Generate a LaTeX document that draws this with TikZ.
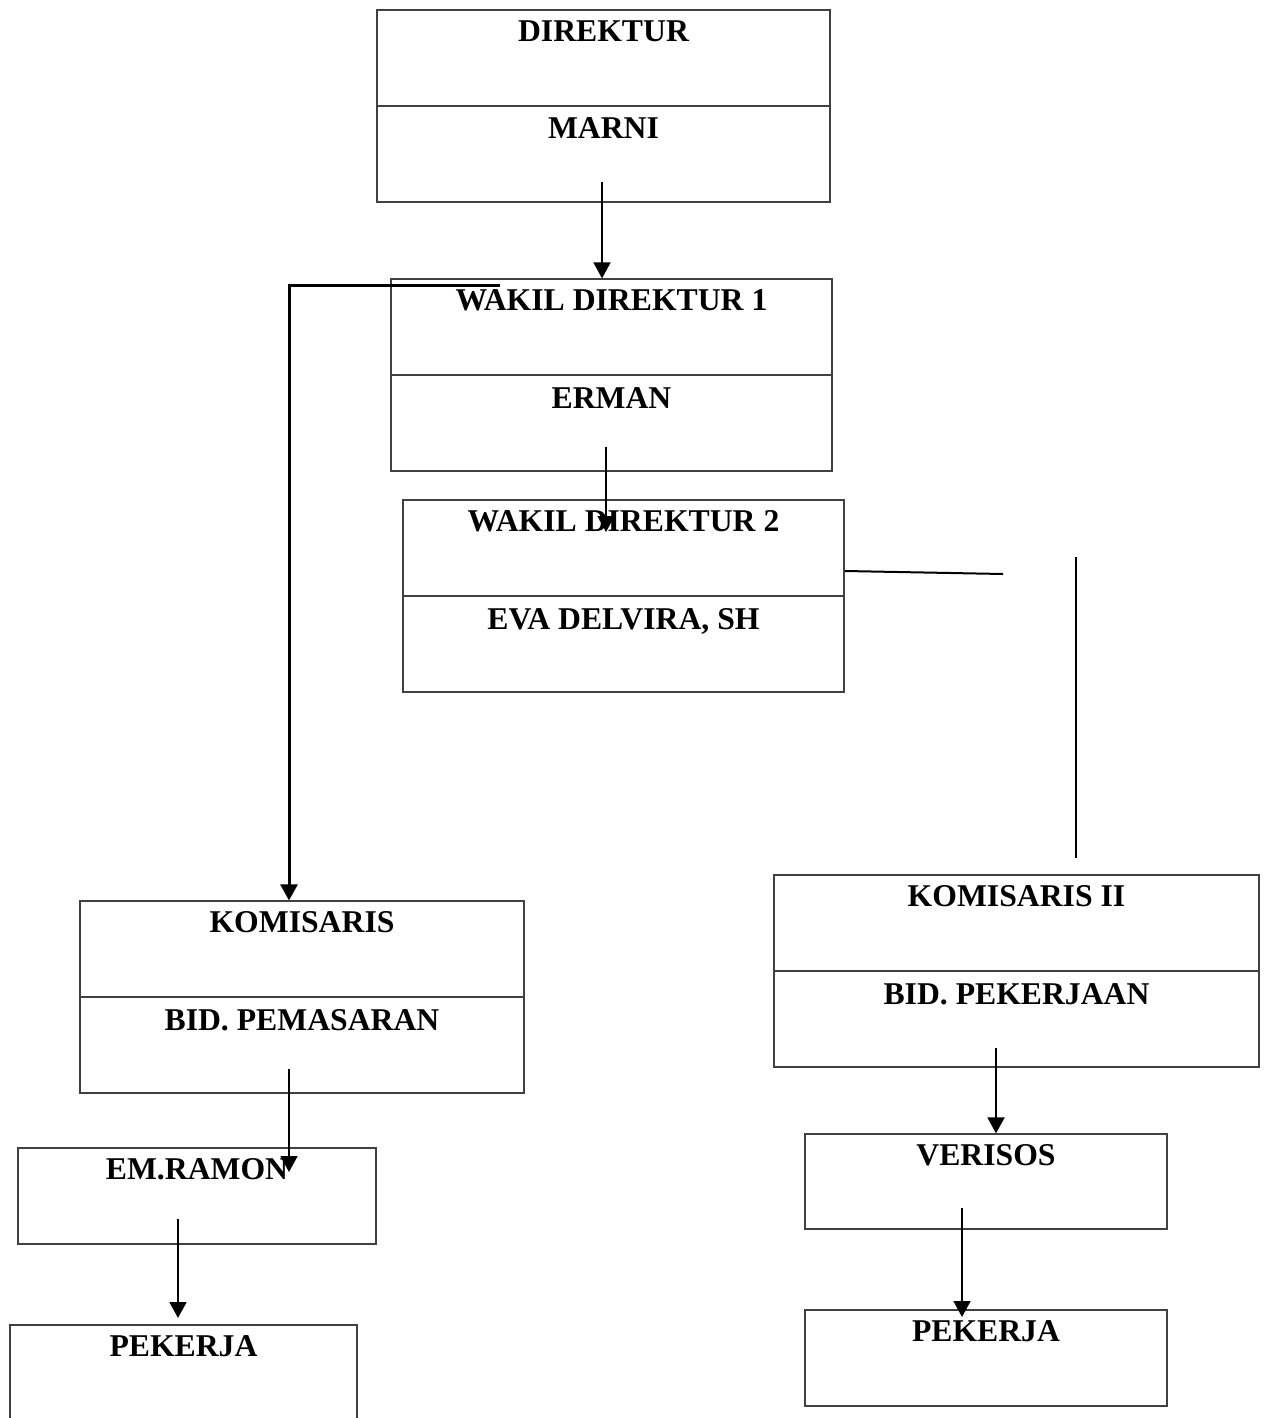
\documentclass[tikz,border=0pt]{standalone}
\usepackage{fontspec}
\setmainfont{Liberation Serif}
\usetikzlibrary{calc}
\usetikzlibrary{arrows.meta}
\tikzstyle{orgbox}=[draw=black!75,line width=1.2pt,rectangle,inner sep=0pt]
\tikzstyle{orglabel}=[anchor=base,inner sep=0pt,font=\fontsize{31.7}{38}\selectfont\bfseries]
\tikzstyle{orgarrow}=[-{Triangle[length=16pt,width=17pt]},line width=1.8pt]
\tikzstyle{thickarrow}=[-{Triangle[length=16pt,width=17pt]},line width=3pt]
\tikzstyle{plainline}=[line width=2pt]
\newcommand{\drawTwinBox}[7]{
% name, left, top, right, bottom, upper text, lower text
\pgfmathsetmacro{\bw}{#4-#2}
\pgfmathsetmacro{\bh}{#5-#3}
\node[orgbox, minimum width=\bw pt, minimum height=\bh pt] (#1) at ({(#2+#4)/2},{(#3+#5)/2}) {};
\draw[orgbox] (#1.west) -- (#1.east);
\node[orglabel] (#1-top) at ($(#1.north)+(0,32)$) {#6};
\node[orglabel] (#1-bot) at ($(#1.center)+(0,33)$) {#7};
}
\newcommand{\drawBox}[6]{
\pgfmathsetmacro{\bw}{#4-#2}
\pgfmathsetmacro{\bh}{#5-#3}
\node[orgbox, minimum width=\bw pt, minimum height=\bh pt] (#1) at ({(#2+#4)/2},{(#3+#5)/2}) {};
\node[orglabel] (#1-top) at ($(#1.north)+(0,32)$) {#6};
}
\begin{document}
\begin{tikzpicture}[x=1pt,y=-1pt]
  \useasboundingbox (0,0) rectangle (1267,1418);
  % boxes
  \drawTwinBox{dir}{377}{10}{830}{202}{DIREKTUR}{MARNI}
  \drawTwinBox{wdA}{391}{279}{832}{471}{WAKIL DIREKTUR 1}{ERMAN}
  \drawTwinBox{wdB}{403}{500}{844}{692}{WAKIL DIREKTUR 2}{EVA DELVIRA, SH}
  \drawTwinBox{kom}{80}{901}{524}{1093}{KOMISARIS}{BID. PEMASARAN}
  \drawTwinBox{komII}{774}{875}{1259}{1067}{KOMISARIS II}{BID. PEKERJAAN}
  \drawBox{ramon}{18}{1148}{376}{1244}{EM.RAMON}
  \drawBox{ver}{805}{1134}{1167}{1229}{VERISOS}
  \drawBox{pekA}{10}{1325}{357}{1445}{PEKERJA}
  \drawBox{pekB}{805}{1310}{1167}{1406}{PEKERJA}
  % free ends of the connectors
  \coordinate (dirOut) at (602,182);
  \coordinate (kiriStart) at (500,285);
  \coordinate (kiriTurn) at (289,285);
  \coordinate (ermOut) at (606,447);
  \coordinate (ermIn) at (606,532);
  \coordinate (kananStart) at (845,571);
  \coordinate (kananEnd) at (1003,574);
  \coordinate (tegakTop) at (1076,557);
  \coordinate (tegakBot) at (1076,858);
  \coordinate (komOut) at (289,1069);
  \coordinate (komIn) at (289,1172);
  \coordinate (ramOut) at (178,1219);
  \coordinate (ramIn) at (178,1318);
  \coordinate (komIIOut) at (996,1048);
  \coordinate (verOut) at (962,1208);
  \coordinate (verIn) at (962,1317);
  % connectors
  \draw[orgarrow] (dirOut) -- (dirOut |- wdA.north);
  \draw[thickarrow] (kiriStart) -- (kiriTurn) -- (kiriTurn |- kom.north);
  \draw[orgarrow] (ermOut) -- (ermIn);
  \draw[plainline] (kananStart) -- (kananEnd);
  \draw[plainline] (tegakTop) -- (tegakBot);
  \draw[orgarrow] (komOut) -- (komIn);
  \draw[orgarrow] (ramOut) -- (ramIn);
  \draw[orgarrow] (komIIOut) -- (komIIOut |- ver.north);
  \draw[orgarrow] (verOut) -- (verIn);
\end{tikzpicture}
\end{document}
